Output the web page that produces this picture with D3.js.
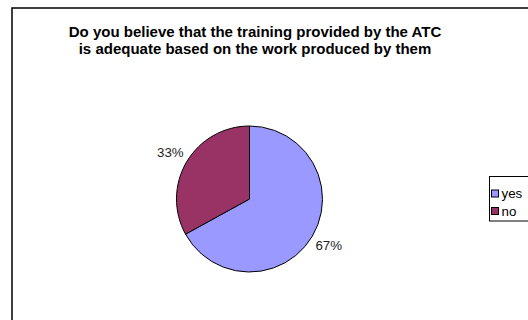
<!DOCTYPE html>
<html>
<head>
<meta charset="utf-8">
<script src="https://cdn.jsdelivr.net/npm/d3@7"></script>
<style>
  html, body { margin: 0; padding: 0; background: #fff; }
  svg { display: block; font-family: "Liberation Sans", Arial, sans-serif; }
</style>
</head>
<body>
<svg id="chart" width="528" height="320"></svg>
<script>
// Survey answers (percent of respondents)
const categories = ["yes", "no"];
const values = [67, 33];
const colors = ["#9999FF", "#993366"];
const titleLines = [
  "Do you believe that the training provided by the ATC",
  "is adequate based on the work produced by them"
];

const svg = d3.select("#chart");

// Chart area frame (extends past the right/bottom edge of the view)
svg.append("rect")
  .attr("x", 12).attr("y", 8)
  .attr("width", 600).attr("height", 400)
  .attr("fill", "#fff")
  .attr("stroke", "#000")
  .attr("stroke-width", 1.5);

// Title
svg.append("g").selectAll("text")
  .data(titleLines)
  .join("text")
  .attr("x", 255)
  .attr("y", (d, i) => 37 + i * 17)
  .attr("text-anchor", "middle")
  .attr("font-size", 15)
  .attr("font-weight", "bold")
  .attr("fill", "#000")
  .text(d => d);

// Pie
const cx = 249.5, cy = 199, r = 73;
const data = categories.map((c, i) => ({ name: c, value: values[i], color: colors[i] }));
const pie = d3.pie().sort(null).value(d => d.value);
const arcs = pie(data);
const arc = d3.arc().innerRadius(0).outerRadius(r);
const labelArc = d3.arc().innerRadius(92).outerRadius(92);
const total = d3.sum(values);

const g = svg.append("g").attr("transform", `translate(${cx},${cy})`);
g.selectAll("path")
  .data(arcs)
  .join("path")
  .attr("d", arc)
  .attr("fill", d => d.data.color)
  .attr("stroke", "#000")
  .attr("stroke-width", 1);

g.selectAll("text")
  .data(arcs)
  .join("text")
  .attr("transform", d => `translate(${labelArc.centroid(d)})`)
  .attr("text-anchor", "middle")
  .attr("dy", "0.35em")
  .attr("font-size", 13.3)
  .attr("fill", "#222")
  .text(d => Math.round(d.data.value / total * 100) + "%");

// Legend
const legend = svg.append("g").attr("transform", "translate(489.5,176.5)");
legend.append("rect")
  .attr("width", 60).attr("height", 44.5)
  .attr("fill", "#fff")
  .attr("stroke", "#000")
  .attr("stroke-width", 1);

const items = legend.selectAll("g.item")
  .data(data)
  .join("g")
  .attr("class", "item")
  .attr("transform", (d, i) => `translate(0,${17 + i * 17.5})`);

items.append("rect")
  .attr("x", 2).attr("y", -3.5)
  .attr("width", 7).attr("height", 7)
  .attr("fill", d => d.color)
  .attr("stroke", "#000")
  .attr("stroke-width", 1);

items.append("text")
  .attr("x", 12)
  .attr("dy", "0.36em")
  .attr("font-size", 13.3)
  .attr("fill", "#000")
  .text(d => d.name);
</script>
</body>
</html>
